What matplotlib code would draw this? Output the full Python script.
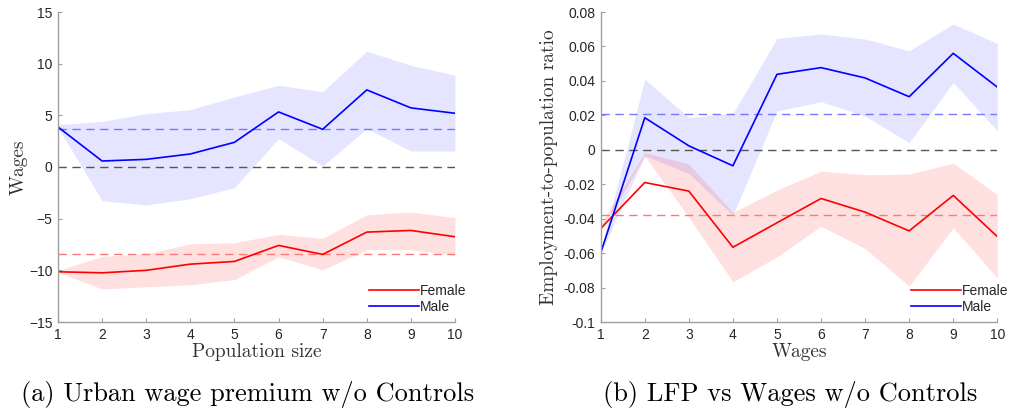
import matplotlib
matplotlib.use("Agg")
import matplotlib.pyplot as plt
import numpy as np

x = [1, 2, 3, 4, 5, 6, 7, 8, 9, 10]

# Panel (a): Urban wage premium
a_male = [3.87, 0.58, 0.74, 1.26, 2.39, 5.33, 3.65, 7.46, 5.72, 5.2]
a_male_hi = [4.1, 4.42, 5.17, 5.55, 6.78, 7.91, 7.3, 11.2, 9.85, 8.88]
a_male_lo = [3.8, -3.26, -3.68, -3.07, -2.0, 2.74, 0.1, 3.71, 1.55, 1.55]
a_male_mean = 3.65
a_fem = [-10.14, -10.24, -10.0, -9.4, -9.14, -7.59, -8.46, -6.3, -6.14, -6.75]
a_fem_hi = [-10.0, -8.65, -8.4, -7.43, -7.33, -6.52, -6.9, -4.62, -4.36, -4.9]
a_fem_lo = [-10.2, -11.8, -11.6, -11.4, -10.9, -8.7, -9.95, -8.0, -8.0, -8.55]
a_fem_mean = -8.43
a_yticks = [-15, -10, -5, 0, 5, 10, 15]

# Panel (b): LFP vs Wages
b_male = [-0.0599, 0.0186, 0.0023, -0.0093, 0.0438, 0.0477, 0.0417, 0.0308, 0.056, 0.0364]
b_male_hi = [-0.058, 0.041, 0.0188, 0.021, 0.0647, 0.0672, 0.0643, 0.0575, 0.073, 0.0618]
b_male_lo = [-0.0603, -0.0035, -0.0138, -0.038, 0.0225, 0.0279, 0.0196, 0.0041, 0.0391, 0.011]
b_male_mean = 0.0207
b_fem = [-0.0457, -0.019, -0.024, -0.0566, -0.0424, -0.0283, -0.0362, -0.0471, -0.0265, -0.0504]
b_fem_hi = [-0.043, -0.0017, -0.0083, -0.0364, -0.0234, -0.0124, -0.0145, -0.0141, -0.0078, -0.026]
b_fem_lo = [-0.047, -0.0037, -0.0393, -0.0767, -0.0622, -0.0444, -0.0574, -0.0792, -0.0453, -0.0744]
b_fem_mean = -0.0376
b_yticks = [-0.1, -0.08, -0.06, -0.04, -0.02, 0, 0.02, 0.04, 0.06, 0.08]
b_yticklabels = ["-0.1", "-0.08", "-0.06", "-0.04", "-0.02", "0", "0.02", "0.04", "0.06", "0.08"]

W, H = 1009, 412
fig = plt.figure(figsize=(W / 100, H / 100), dpi=100)

SERIF = "cmr10"
TICKFONT = "Liberation Sans"
AXCOL = "#a0a0a0"
TXTCOL = "#262626"


def style(ax, yticks, ylim, yticklabels=None):
    ax.set_xlim(1, 10)
    ax.set_ylim(*ylim)
    ax.set_xticks(x)
    ax.set_yticks(yticks)
    if yticklabels is not None:
        ax.set_yticklabels(yticklabels)
    for s in ["top", "right"]:
        ax.spines[s].set_visible(False)
    for s in ["left", "bottom"]:
        ax.spines[s].set_color(AXCOL)
        ax.spines[s].set_linewidth(1.0)
    ax.tick_params(direction="in", length=3, width=0.8, color=AXCOL,
                   labelcolor=TXTCOL, labelsize=10, pad=4)
    for lab in ax.get_xticklabels() + ax.get_yticklabels():
        lab.set_family(TICKFONT)


def panel(ax, male, mhi, mlo, mmean, fem, fhi, flo, fmean):
    ax.fill_between(x, mlo, mhi, color="#0000ff", alpha=0.1, lw=0)
    ax.fill_between(x, flo, fhi, color="#ff0000", alpha=0.12, lw=0)
    ax.axhline(0, color="#555555", ls=(0, (6, 4)), lw=1.0)
    ax.axhline(mmean, color="#7777ff", ls=(0, (6, 4)), lw=1.0)
    ax.axhline(fmean, color="#ff7777", ls=(0, (6, 4)), lw=1.0)
    lf, = ax.plot(x, fem, color="#ff0000", lw=1.2, label="Female")
    lm, = ax.plot(x, male, color="#0000ff", lw=1.2, label="Male")
    leg = ax.legend(handles=[lf, lm], loc="lower right", frameon=False,
                    prop={"family": TICKFONT, "size": 10}, handlelength=3.6,
                    handletextpad=0.1, labelspacing=0.15,
                    bbox_to_anchor=(1.05, 0.0), borderaxespad=0.2)
    for t in leg.get_texts():
        t.set_color(TXTCOL)


ax1 = fig.add_axes([58 / W, 1 - 322 / H, 397 / W, 310 / H])
panel(ax1, a_male, a_male_hi, a_male_lo, a_male_mean, a_fem, a_fem_hi, a_fem_lo, a_fem_mean)
style(ax1, a_yticks, (-15, 15))
ax1.set_xlabel("Population size", family=SERIF, fontsize=14, color="#333333", labelpad=1)
ax1.set_ylabel("Wages", family=SERIF, fontsize=14, color="#333333", labelpad=1)

ax2 = fig.add_axes([600.7 / W, 1 - 322 / H, 396.6 / W, 310 / H])
panel(ax2, b_male, b_male_hi, b_male_lo, b_male_mean, b_fem, b_fem_hi, b_fem_lo, b_fem_mean)
style(ax2, b_yticks, (-0.1, 0.08), b_yticklabels)
ax2.set_xlabel("Wages", family=SERIF, fontsize=14, color="#333333", labelpad=1)
ax2.set_ylabel("Employment-to-population ratio", family=SERIF, fontsize=14, color="#333333", labelpad=4)

fig.text(248 / W, 1 - 395 / H, "(a) Urban wage premium w/o Controls", family=SERIF,
         fontsize=19, ha="center", va="center", color="black")
fig.text(790 / W, 1 - 395 / H, "(b) LFP vs Wages w/o Controls", family=SERIF,
         fontsize=19, ha="center", va="center", color="black")

fig.savefig("out.png", dpi=100)
